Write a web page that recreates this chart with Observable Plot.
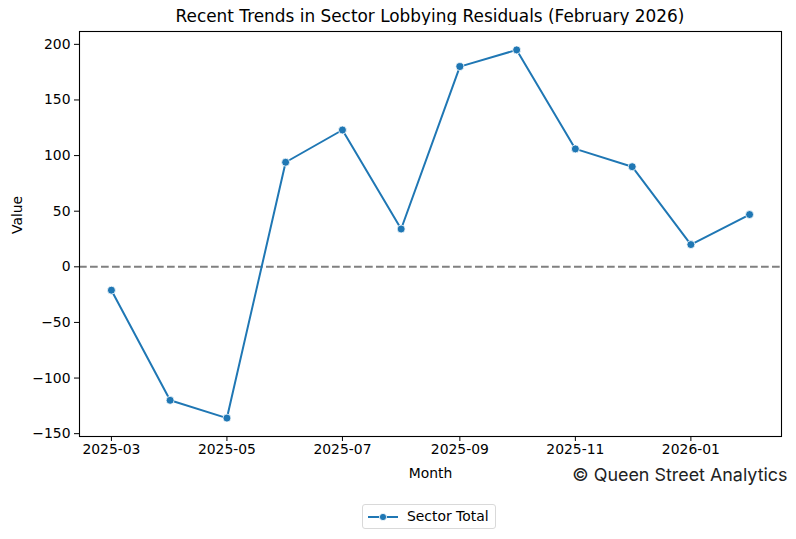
<!DOCTYPE html>
<html>
<head>
<meta charset="utf-8">
<script src="https://cdn.jsdelivr.net/npm/d3@7"></script>
<script src="https://cdn.jsdelivr.net/npm/@observablehq/plot@0.6"></script>
<style>
  html, body { margin: 0; padding: 0; background: #fff; }
  body { width: 796px; height: 539px; position: relative; overflow: hidden; font-family: "DejaVu Sans", sans-serif; }
  #title { position: absolute; left: 79px; width: 702px; top: 6px; text-align: center; font-size: 16.9px; line-height: 20px; color: #000; }
  #chart { position: absolute; left: 0; top: 25px; }
  #legend { position: absolute; left: 362px; top: 504px; width: 134px; height: 25px; border: 1px solid #d9d9d9; border-radius: 3px; box-sizing: border-box; background: #fff; font-size: 13.9px; }
  #legend svg { position: absolute; left: 4px; top: 6px; }
  #legend span { position: absolute; left: 44px; top: 3px; }
</style>
</head>
<body>
<div id="title">Recent Trends in Sector Lobbying Residuals (February 2026)</div>
<div id="chart"></div>
<div id="legend"><svg width="32" height="12"><line x1="1" y1="6" x2="31" y2="6" stroke="#1f77b4" stroke-width="2"/><circle cx="16" cy="6" r="3.6" fill="#1f77b4" stroke="#fff" stroke-width="0.8"/></svg><span>Sector Total</span></div>
<script>
const months = ["2025-03","2025-04","2025-05","2025-06","2025-07","2025-08","2025-09","2025-10","2025-11","2025-12","2026-01","2026-02"];
const values = [-21, -120, -136, 94, 123, 34, 180, 195, 106, 90, 20, 47];
const xTicks = ["2025-03","2025-05","2025-07","2025-09","2025-11","2026-01"];
const yTicks = [-150, -100, -50, 0, 50, 100, 150, 200];
const seriesName = "Sector Total";
const caption = "© Queen Street Analytics";

const parse = d3.utcParse("%Y-%m");
const data = months.map((m, i) => ({date: parse(m), value: values[i], series: seriesName}));

const xMin = data[0].date, xMax = data[data.length - 1].date;
const span = xMax - xMin;
const xDomain = [new Date(+xMin - span * 0.05), new Date(+xMax + span * 0.05)];
const yMinV = d3.min(values), yMaxV = d3.max(values);
const ySpan = yMaxV - yMinV;
const yDomain = [yMinV - ySpan * 0.05, yMaxV + ySpan * 0.05];

const chart = Plot.plot({
  width: 796,
  height: 465,
  marginTop: 6,
  marginLeft: 79,
  marginRight: 15,
  marginBottom: 54,
  style: {fontFamily: "DejaVu Sans", fontSize: "13.9px", color: "#000", background: "#fff"},
  x: {type: "utc", domain: xDomain, label: null},
  y: {domain: yDomain, label: null},
  marks: [
    Plot.ruleY([0], {stroke: "#808080", strokeWidth: 2, strokeDasharray: "7.7,3.3"}),
    Plot.line(data, {x: "date", y: "value", stroke: "#1f77b4", strokeWidth: 2}),
    Plot.dot(data, {x: "date", y: "value", r: 4, fill: "#1f77b4", stroke: "#fff", strokeWidth: 0.8}),
    Plot.frame({stroke: "#000", strokeWidth: 1.1}),
    Plot.axisX({ticks: xTicks.map(parse), tickFormat: d3.utcFormat("%Y-%m"), tickSize: 5, tickPadding: 3, label: null, fontSize: 13.9}),
    Plot.axisY({ticks: yTicks, tickFormat: d => d < 0 ? "\u2212" + Math.abs(d) : String(d), tickSize: 5, tickPadding: 4, label: null, fontSize: 13.9}),
    Plot.text(["Month"], {frameAnchor: "bottom", dy: 41, fontSize: 13.9, fill: "#000"}),
    Plot.text(["Value"], {frameAnchor: "left", dx: -62, rotate: -90, fontSize: 13.9, fill: "#000"}),
    Plot.text([caption], {frameAnchor: "bottom-right", dx: 6, dy: 44, textAnchor: "end", fontSize: 17.9, fontFamily: "Inter", fill: "#222"})
  ]
});
document.getElementById("chart").appendChild(chart);
</script>
</body>
</html>
